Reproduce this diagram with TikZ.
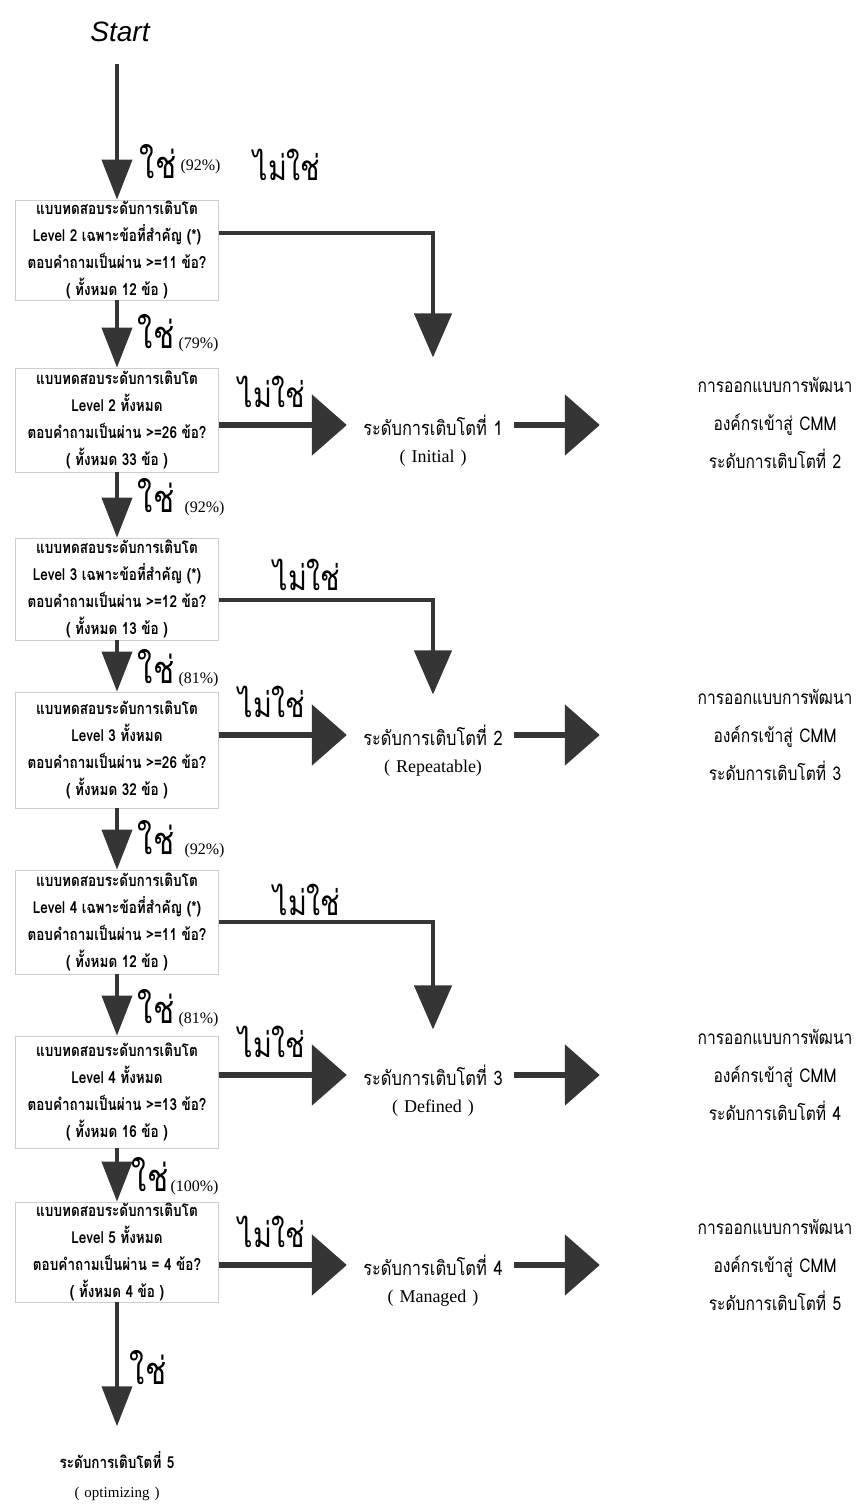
\documentclass[tikz,border=0pt]{standalone}
\usepackage{fontspec}
\usepackage{tikz}
\usetikzlibrary{arrows.meta,positioning}
\newfontfamily\thaifont[Script=Thai, FakeStretch=0.82]{Loma}
\newfontfamily\startfont{Liberation Sans}
\newfontfamily\pctfont{Liberation Serif}
\definecolor{arrowgray}{HTML}{353535}
\definecolor{boxgray}{HTML}{CDCDCD}
\tikzset{
    test-box/.style = {draw=boxgray, line width=0.8pt, minimum width=203pt, minimum height=100pt, inner sep=0pt, align=center, font=\thaifont\bfseries\fontsize{16.5}{27}\selectfont},
    level-text/.style = {text width=156pt, inner sep=3pt, align=center, font=\thaifont\fontsize{20}{22}\selectfont},
    level-name/.style = {text width=156pt, inner sep=3pt, align=center, font=\pctfont\fontsize{18}{20}\selectfont},
    design-text/.style = {text width=160pt, inner sep=3pt, align=center, font=\thaifont\fontsize{19}{38}\selectfont},
    yes-label/.style = {inner sep=0pt, font=\thaifont\fontsize{38}{40}\selectfont},
    no-label/.style = {inner sep=0pt, font=\thaifont\fontsize{35}{38}\selectfont},
    pct-label/.style = {inner sep=0pt, anchor=base west, font=\pctfont\fontsize{16}{18}\selectfont},
    down-arrow/.style = {draw=arrowgray, line width=4pt, -{Triangle[length=40pt,width=30pt]}},
    side-arrow/.style = {draw=arrowgray, line width=6pt, -{Triangle[length=35pt,width=60pt]}},
    elbow-arrow/.style = {draw=arrowgray, line width=4.5pt, -{Triangle[length=44pt,width=37pt]}},
}
\begin{document}
\begin{tikzpicture}[x=1pt, y=-1pt]
\useasboundingbox (0,0) rectangle (856,1509);

\node[inner sep=2pt, font=\startfont\itshape\fontsize{28}{30}\selectfont] (start) at (120,32) {Start};

% test boxes
\node[test-box] (box1) at (117,250) {แบบทดสอบระดับการเติบโต\\Level 2 เฉพาะข้อที่สำคัญ (*)\\ตอบคำถามเป็นผ่าน >=11 ข้อ?\\( ทั้งหมด 12 ข้อ )};
\node[test-box, minimum height=104pt] (box2) at (117,420) {แบบทดสอบระดับการเติบโต\\Level 2 ทั้งหมด\\ตอบคำถามเป็นผ่าน >=26 ข้อ?\\( ทั้งหมด 33 ข้อ )};
\node[test-box, minimum height=102pt] (box3) at (117,589) {แบบทดสอบระดับการเติบโต\\Level 3 เฉพาะข้อที่สำคัญ (*)\\ตอบคำถามเป็นผ่าน >=12 ข้อ?\\( ทั้งหมด 13 ข้อ )};
\node[test-box, minimum height=116pt] (box4) at (117,750) {แบบทดสอบระดับการเติบโต\\Level 3 ทั้งหมด\\ตอบคำถามเป็นผ่าน >=26 ข้อ?\\( ทั้งหมด 32 ข้อ )};
\node[test-box, minimum height=104pt] (box5) at (117,922) {แบบทดสอบระดับการเติบโต\\Level 4 เฉพาะข้อที่สำคัญ (*)\\ตอบคำถามเป็นผ่าน >=11 ข้อ?\\( ทั้งหมด 12 ข้อ )};
\node[test-box, minimum height=112pt] (box6) at (117,1092) {แบบทดสอบระดับการเติบโต\\Level 4 ทั้งหมด\\ตอบคำถามเป็นผ่าน >=13 ข้อ?\\( ทั้งหมด 16 ข้อ )};
\node[test-box] (box7) at (117,1252) {แบบทดสอบระดับการเติบโต\\Level 5 ทั้งหมด\\ตอบคำถามเป็นผ่าน = 4 ข้อ?\\( ทั้งหมด 4 ข้อ )};

% maturity levels
\node[level-text] (lev1) at (433,425) {ระดับการเติบโตที่ 1};
\node[level-name, below=8pt of lev1] (lev1-name) {( Initial )};
\node[level-text] (lev2) at (433,735) {ระดับการเติบโตที่ 2};
\node[level-name, below=8pt of lev2] (lev2-name) {( Repeatable)};
\node[level-text] (lev3) at (433,1075) {ระดับการเติบโตที่ 3};
\node[level-name, below=8pt of lev3] (lev3-name) {( Defined )};
\node[level-text] (lev4) at (433,1265) {ระดับการเติบโตที่ 4};
\node[level-name, below=8pt of lev4] (lev4-name) {( Managed )};
\node[level-text, font=\thaifont\bfseries\fontsize{16.5}{18}\selectfont] (lev5) at (117,1460) {ระดับการเติบโตที่ 5};
\node[level-name, font=\pctfont\fontsize{15}{18}\selectfont, below=12pt of lev5] (lev5-name) {( optimizing )};

% design targets
\node[design-text] (des2) at (775,423) {การออกแบบการพัฒนา\\องค์กรเข้าสู่ CMM\\ระดับการเติบโตที่ 2};
\node[design-text] (des3) at (775,735) {การออกแบบการพัฒนา\\องค์กรเข้าสู่ CMM\\ระดับการเติบโตที่ 3};
\node[design-text] (des4) at (775,1075) {การออกแบบการพัฒนา\\องค์กรเข้าสู่ CMM\\ระดับการเติบโตที่ 4};
\node[design-text] (des5) at (775,1265) {การออกแบบการพัฒนา\\องค์กรเข้าสู่ CMM\\ระดับการเติบโตที่ 5};

% yes branch
\draw[down-arrow, shorten <=20pt] (box1.north |- start.south) -- (box1.north);
\draw[down-arrow] (box1) -- (box2);
\draw[down-arrow] (box2) -- (box3);
\draw[down-arrow] (box3) -- (box4);
\draw[down-arrow] (box4) -- (box5);
\draw[down-arrow] (box5) -- (box6);
\draw[down-arrow] (box6) -- (box7);
\draw[down-arrow, shorten >=22pt] (box7) -- (lev5);

\node[yes-label] (yes1) at (158,162) {ใช่};
\node[pct-label, yshift=8pt] (pct1) at ([xshift=4pt]yes1.base east) {(92\%)};
\node[yes-label] (yes2) at (156,332) {ใช่};
\node[pct-label] (pct2) at ([xshift=4pt]yes2.base east) {(79\%)};
\node[yes-label] (yes3) at (156,496) {ใช่};
\node[pct-label] (pct3) at ([xshift=10pt]yes3.base east) {(92\%)};
\node[yes-label] (yes4) at (156,667) {ใช่};
\node[pct-label] (pct4) at ([xshift=4pt]yes4.base east) {(81\%)};
\node[yes-label] (yes5) at (156,838) {ใช่};
\node[pct-label] (pct5) at ([xshift=10pt]yes5.base east) {(92\%)};
\node[yes-label] (yes6) at (156,1007) {ใช่};
\node[pct-label] (pct6) at ([xshift=4pt]yes6.base east) {(81\%)};
\node[yes-label] (yes7) at (150,1175) {ใช่};
\node[pct-label] (pct7) at ([xshift=2pt]yes7.base east) {(100\%)};
\node[yes-label] (yes8) at (148,1368) {ใช่};

% no branch
\node[no-label] (no1) at (287,165) {ไม่ใช่};
\draw[elbow-arrow, shorten >=54pt] ([yshift=17pt]box1.east) -| (lev1.north);
\node[no-label] (no3) at (307,575) {ไม่ใช่};
\draw[elbow-arrow, shorten >=27pt] ([yshift=-11pt]box3.east) -| (lev2.north);
\node[no-label] (no5) at (307,900) {ไม่ใช่};
\draw[elbow-arrow, shorten >=32pt] (box5.east) -| (lev3.north);

\draw[side-arrow, shorten >=5pt] (box2.east |- lev1.west) -- (lev1.west) node[no-label, pos=0.4, above=14pt] (no2) {ไม่ใช่};
\draw[side-arrow, shorten >=5pt] (box4.east |- lev2.west) -- (lev2.west) node[no-label, pos=0.4, above=14pt] (no4) {ไม่ใช่};
\draw[side-arrow, shorten >=5pt] (box6.east |- lev3.west) -- (lev3.west) node[no-label, pos=0.4, above=14pt] (no6) {ไม่ใช่};
\draw[side-arrow, shorten >=5pt] (box7.east |- lev4.west) -- (lev4.west) node[no-label, pos=0.4, above=14pt] (no7) {ไม่ใช่};

% to design
\draw[side-arrow, shorten >=92pt] (lev1.east) -- (des2.west |- lev1.east);
\draw[side-arrow, shorten >=92pt] (lev2.east) -- (des3.west |- lev2.east);
\draw[side-arrow, shorten >=92pt] (lev3.east) -- (des4.west |- lev3.east);
\draw[side-arrow, shorten >=92pt] (lev4.east) -- (des5.west |- lev4.east);
\end{tikzpicture}
\end{document}
